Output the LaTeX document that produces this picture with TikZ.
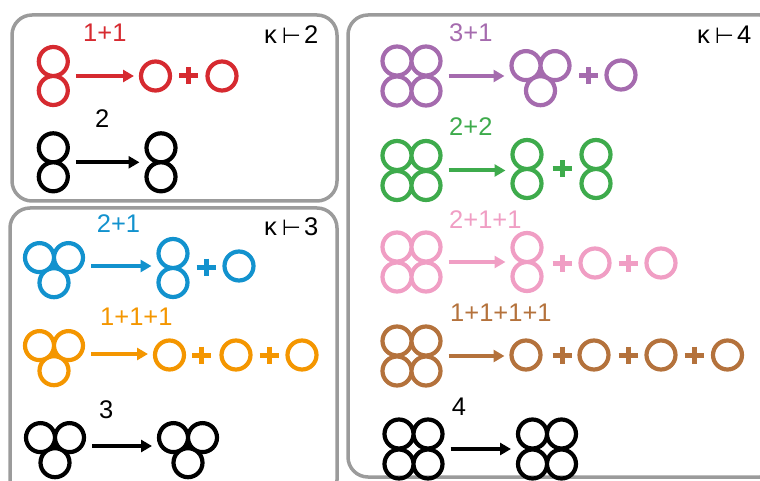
\documentclass[tikz,border=0pt]{standalone}
\usepackage{fontspec}
\setmainfont{Liberation Sans}
\newfontfamily\djv{DejaVu Sans}
\usetikzlibrary{arrows.meta}
\definecolor{cred}{RGB}{214,42,48}
\definecolor{cblue}{RGB}{18,146,206}
\definecolor{corange}{RGB}{244,150,0}
\definecolor{cpurple}{RGB}{165,107,174}
\definecolor{cgreen}{RGB}{62,171,76}
\definecolor{cpink}{RGB}{240,158,196}
\definecolor{cbrown}{RGB}{180,114,60}
\definecolor{cframe}{RGB}{155,155,155}
\newcommand\tstile{{\djv\fontsize{22}{26}\selectfont ⊢}}
\tikzset{
  ring/.style={line width=4.2pt},
  hold/.style={draw=none, inner sep=0pt, outer sep=0pt, minimum height=33pt},
  conn/.style={line width=4pt, -{Triangle[length=11pt,width=12pt]}, shorten <=6pt, shorten >=5pt},
  lbl/.style={anchor=base west, inner sep=0pt, font=\fontsize{25.5}{30}\selectfont},
  frame/.style={draw=cframe, line width=3.5pt, rounded corners=20pt},
  pls/.style={line width=5pt},
}
\newcommand\ringone[3]{%
  \node[hold, minimum width=33pt] (#1) at (#2) {};
  \begin{scope}[shift={(#2)}]\draw[ring,#3] (0,0) circle[radius=14.5pt];\end{scope}}
\newcommand\ringtwo[3]{%
  \node[hold, minimum width=33pt] (#1) at (#2) {};
  \begin{scope}[shift={(#2)}]\draw[ring,#3] (0,-14.5) circle[radius=14.5pt] (0,14.5) circle[radius=14.5pt];\end{scope}}
\newcommand\ringthree[3]{%
  \node[hold, minimum width=62pt] (#1) at (#2) {};
  \begin{scope}[shift={(#2)}]\draw[ring,#3] (-14.5,-8.4) circle[radius=14.5pt] (14.5,-8.4) circle[radius=14.5pt] (0,16.7) circle[radius=14.5pt];\end{scope}}
\newcommand\ringfour[3]{%
  \node[hold, minimum width=62pt] (#1) at (#2) {};
  \begin{scope}[shift={(#2)}]\draw[ring,#3] (-14.5,-15) circle[radius=14.5pt] (14.5,-15) circle[radius=14.5pt] (-14.5,15) circle[radius=14.5pt] (14.5,15) circle[radius=14.5pt];\end{scope}}
\newcommand\plusmark[2]{%
  \begin{scope}[shift={(#1)}]\draw[pls,#2] (-9.5,0)--(9.5,0) (0,-8.5)--(0,8.5);\end{scope}}
\begin{document}
\begin{tikzpicture}[x=1pt,y=-1pt]
\useasboundingbox (0,0) rectangle (760,481);
% frames
\draw[frame] (12,15) rectangle (337,201);
\draw[frame] (10,208) rectangle (337,500);
\draw[frame] (348,15) rectangle (780,477);
% kappa labels
\node[lbl] (k2) at (264,44) {κ\kern5pt\tstile\kern3pt 2};
\node[lbl] (k3) at (264,236) {κ\kern5pt\tstile\kern3pt 3};
\node[lbl] (k4) at (697,44) {κ\kern5pt\tstile\kern3pt 4};
% ---- kappa 2 ----
\ringtwo{a1}{53.3,76}{cred}
\ringone{a2}{155.5,76}{cred}
\plusmark{188.5,76}{cred}
\ringone{a3}{222,76}{cred}
\draw[conn,cred] (a1.east) -- (a1.east -| a2.west);
\node[lbl,text=cred] (la) at (83,42) {1+1};
\ringtwo{b1}{53.3,162.3}{black}
\ringtwo{b2}{161,162.3}{black}
\draw[conn,black] (b1.east) -- (b1.east -| b2.west);
\node[lbl] (lb) at (95,128) {2};
% ---- kappa 3 ----
\ringthree{c1}{54,266}{cblue}
\ringtwo{c2}{173,268}{cblue}
\plusmark{206,267}{cblue}
\ringone{c3}{239,266}{cblue}
\draw[conn,cblue] (c1.east) -- (c1.east -| c2.west);
\node[lbl,text=cblue] (lc) at (96.7,233) {2+1};
\ringthree{d1}{54,354}{corange}
\ringone{d2}{169.5,355}{corange}
\plusmark{201.7,355}{corange}
\ringone{d3}{236,355}{corange}
\plusmark{269,355}{corange}
\ringone{d4}{302,355}{corange}
\draw[conn,corange] (d1.east) -- (d1.east -| d2.west);
\node[lbl,text=corange] (ld) at (100,325) {1+1+1};
\ringthree{e1}{55,446}{black}
\ringthree{e2}{188,446}{black}
\draw[conn,black] (e1.east) -- (e1.east -| e2.west);
\node[lbl] (le) at (99,418) {3};
% ---- kappa 4 ----
\ringfour{f1}{411.5,76}{cpurple}
\ringthree{f2}{540.5,74}{cpurple}
\plusmark{588.5,76}{cpurple}
\ringone{f3}{621,75}{cpurple}
\draw[conn,cpurple] (f1.east) -- (f1.east -| f2.west);
\node[lbl,text=cpurple] (lf) at (449,42) {3+1};
\ringfour{g1}{411.5,170.5}{cgreen}
\ringtwo{g2}{527,169}{cgreen}
\plusmark{562,169}{cgreen}
\ringtwo{g3}{596,169}{cgreen}
\draw[conn,cgreen] (g1.east) -- (g1.east -| g2.west);
\node[lbl,text=cgreen] (lg) at (449,136) {2+2};
\ringfour{h1}{411.5,262}{cpink}
\ringtwo{h2}{527,262}{cpink}
\plusmark{562,263}{cpink}
\ringone{h3}{595,263}{cpink}
\plusmark{628,263}{cpink}
\ringone{h4}{661,263}{cpink}
\draw[conn,cpink] (h1.east) -- (h1.east -| h2.west);
\node[lbl,text=cpink] (lh) at (449,228) {2+1+1};
\ringfour{i1}{411.5,356}{cbrown}
\ringone{i2}{526,355}{cbrown}
\plusmark{562,355}{cbrown}
\ringone{i3}{594,355}{cbrown}
\plusmark{628,355}{cbrown}
\ringone{i4}{661,355}{cbrown}
\plusmark{694,355}{cbrown}
\ringone{i5}{727.5,355}{cbrown}
\draw[conn,cbrown] (i1.east) -- (i1.east -| i2.west);
\node[lbl,text=cbrown] (li) at (450,321.7) {1+1+1+1};
\ringfour{j1}{413.5,449}{black}
\ringfour{j2}{547,449}{black}
\draw[conn,black] (j1.east) -- (j1.east -| j2.west);
\node[lbl] (lj) at (451.7,415) {4};
\end{tikzpicture}
\end{document}
